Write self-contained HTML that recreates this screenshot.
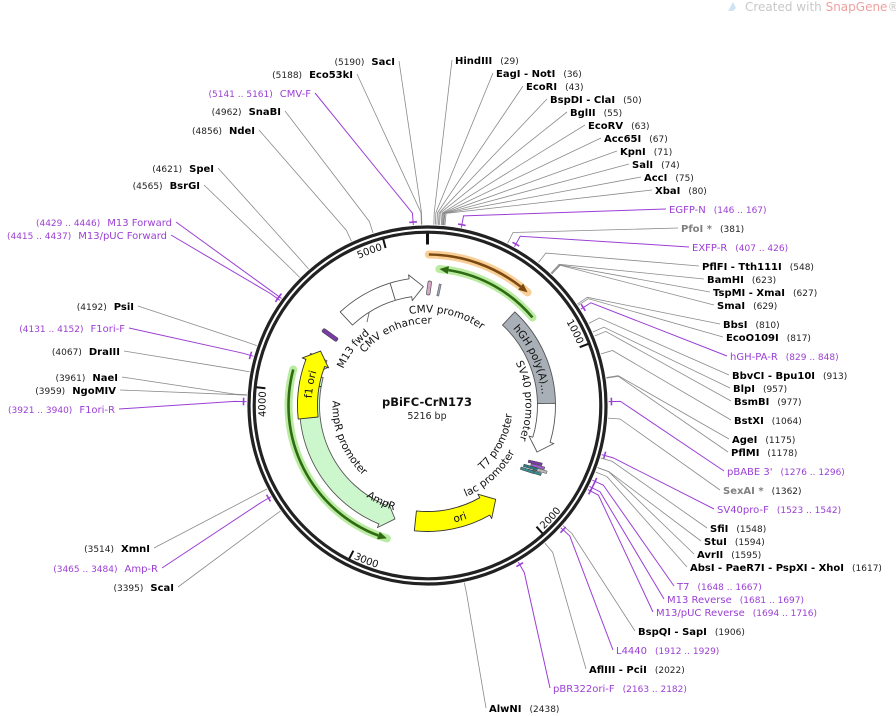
<!DOCTYPE html>
<html><head><meta charset="utf-8"><style>
html,body{margin:0;padding:0;background:#fff;width:896px;height:716px;overflow:hidden}
svg{display:block;font-family:"DejaVu Sans","Liberation Sans",sans-serif}
</style></head><body>
<svg id="s" width="896" height="716" viewBox="0 0 896 716" xmlns="http://www.w3.org/2000/svg">
<text x="745" y="11" font-size="12" fill="#c8c8c8">Created with <tspan fill="#f0a0a0">SnapGene</tspan>®</text>
<path d="M728 11 L733 2 L736 8 L733 11 Z" fill="#cfe3f3"/>
<g id="g"></g>
</svg>
<script>
const NS="http://www.w3.org/2000/svg";
const g=document.getElementById('g');
const cx=427.5,cy=405.5,L=5216;
function P(r,a){const t=a*Math.PI/180;return [cx+r*Math.sin(t),cy-r*Math.cos(t)];}
function f(p){return p[0].toFixed(2)+" "+p[1].toFixed(2);}
function arc(r,a1,a2){const p=P(r,a2);const lg=Math.abs(a2-a1)>180?1:0;const sw=a2>a1?1:0;return `A${r} ${r} 0 ${lg} ${sw} ${f(p)}`;}
function el(tag,attrs,parent,txt){const e=document.createElementNS(NS,tag);for(const k in attrs)e.setAttribute(k,attrs[k]);if(txt!==undefined)e.textContent=txt;(parent||g).appendChild(e);return e;}
function deg(bp){return bp/L*360;}
let pid=0;
function arcText(str,r,a,dir,anchor,attrs){
  const id="tp"+(pid++);let d;
  if(dir>0){d=`M${f(P(r,a-170))} `+arc(r,a-170,a)+" "+arc(r,a,a+170);}
  else{d=`M${f(P(r,a+170))} `+arc(r,a+170,a)+" "+arc(r,a,a-170);}
  el('path',{id:id,d:d,fill:'none',stroke:'none'});
  const t=el('text',Object.assign({'font-size':10.5,fill:'#111'},attrs||{}));
  el('textPath',{href:'#'+id,startOffset:(r*170*Math.PI/180).toFixed(2),'text-anchor':anchor},t,str);
}
function arrow(r1,r2,a0,a1,fill,stroke,head){
  const dir=a1>a0?1:-1;const rm=(r1+r2)/2;
  const h=head===false?0:13/rm*180/Math.PI;const ab=a1-dir*h;
  let d=`M${f(P(r2,a0))} `+arc(r2,a0,ab);
  if(head!==false){d+=` L${f(P(r2+4,ab))} L${f(P(rm,a1))} L${f(P(r1-4,ab))} L${f(P(r1,ab))}`;}
  else d+=` L${f(P(r1,ab))}`;
  d+=" "+arc(r1,ab,a0)+" Z";
  el('path',{d:d,fill:fill,stroke:stroke,'stroke-width':0.9,'stroke-linejoin':'round'});
}
function lineArrow(r,a0,a1,col,glow){
  const dir=a1>a0?1:-1;const h=9/r*180/Math.PI;const ab=a1-dir*h;
  el('path',{d:`M${f(P(r,a0))} `+arc(r,a0,a1),fill:'none',stroke:glow,'stroke-width':8,'stroke-linecap':'round','opacity':0.8});
  el('path',{d:`M${f(P(r,a0))} `+arc(r,a0,ab),fill:'none',stroke:col,'stroke-width':2.6});
  el('path',{d:`M${f(P(r+4,ab))} L${f(P(r,a1))} L${f(P(r-4,ab))} Z`,fill:col});
}
const R=[
["HindIII","29",455,60,29,'k'],["EagI  - NotI","36",496,73,36,'k'],["EcoRI","43",526,86,43,'k'],
["BspDI  - ClaI","50",550,99,50,'k'],["BglII","55",570,112,55,'k'],["EcoRV","63",588,125,63,'k'],
["Acc65I","67",604,138,67,'k'],["KpnI","71",620,151,71,'k'],["SalI","74",632,164,74,'k'],
["AccI","75",644,177,75,'k'],["XbaI","80",655,190,80,'k'],
["EGFP-N","146 .. 167",669,209,156,'p'],["PfoI *","381",681,228,381,'g'],["EXFP-R","407 .. 426",692,247,416,'p'],
["PflFI  - Tth111I","548",702,266,548,'k'],["BamHI","623",707,279,623,'k'],["TspMI  - XmaI","627",713,292,627,'k'],
["SmaI","629",717,305,629,'k'],["BbsI","810",723,324,810,'k'],["EcoO109I","817",726,337,817,'k'],
["hGH-PA-R","829 .. 848",730,356,838,'p'],["BbvCI  - Bpu10I","913",732,375,913,'k'],["BlpI","957",733,388,957,'k'],
["BsmBI","977",734,401,977,'k'],["BstXI","1064",734,420,1064,'k'],["AgeI","1175",732,439,1175,'k'],
["PflMI","1178",731,452,1178,'k'],["pBABE 3'","1276 .. 1296",727,471,1286,'p'],["SexAI *","1362",723,490,1362,'g'],
["SV40pro-F","1523 .. 1542",717,509,1532,'p'],["SfiI","1548",710,528,1548,'k'],["StuI","1594",704,541,1594,'k'],
["AvrII","1595",697,554,1595,'k'],["AbsI  - PaeR7I  - PspXI  - XhoI","1617",690,567,1617,'k'],
["T7","1648 .. 1667",677,586,1657,'p'],["M13 Reverse","1681 .. 1697",667,599,1689,'p'],
["M13/pUC Reverse","1694 .. 1716",656,612,1705,'p'],["BspQI  - SapI","1906",638,631,1906,'k'],
["L4440","1912 .. 1929",616,650,1920,'p'],["AflIII  - PciI","2022",589,669,2022,'k'],
["pBR322ori-F","2163 .. 2182",553,688,2172,'p'],["AlwNI","2438",489,708,2438,'k']];
const Lf=[
["SacI","5190",395,61,5190,'k'],["Eco53kI","5188",353,74,5188,'k'],["CMV-F","5141 .. 5161",311,93,5151,'p'],
["SnaBI","4962",281,111,4962,'k'],["NdeI","4856",255,130,4856,'k'],["SpeI","4621",214,168,4621,'k'],
["BsrGI","4565",200,185,4565,'k'],["M13 Forward","4429 .. 4446",172,222,4437,'p'],
["M13/pUC Forward","4415 .. 4437",167,235,4426,'p'],["PsiI","4192",134,306,4192,'k'],
["F1ori-F","4131 .. 4152",125,328,4141,'p'],["DraIII","4067",120,351,4067,'k'],["NaeI","3961",118,377,3961,'k'],
["NgoMIV","3959",116,390,3959,'k'],["F1ori-R","3921 .. 3940",115,409,3930,'p'],
["XmnI","3514",150,548,3514,'k'],["Amp-R","3465 .. 3484",158,568,3474,'p'],["ScaI","3395",174,587,3395,'k']];
const PUR="#9b3fd4";
function colr(c){return c==='p'?PUR:(c==='g'?'#808080':'#000');}
function drawLine(ax,ay,bp,c){
  const a=deg(bp);const p1=P(193,a),p2=P(181,a);
  const col=c==='p'?PUR:'#8a8a8a';
  el('polyline',{points:`${ax},${ay} ${f(p1)} ${f(p2)}`,fill:'none',stroke:col,'stroke-width':c==='p'?1:0.8});
  if(c==='p'){el('path',{d:`M${f(P(184,a-1.2))} `+arc(184,a-1.2,a+1.2),fill:'none',stroke:PUR,'stroke-width':1.6});}
}
R.forEach(([n,num,x,y,bp,c])=>{
  drawLine(x-3,y,bp,c);
  const t=el('text',{x:x,y:y+4,fill:colr(c)});
  el('tspan',{'font-size':10,'font-weight':c==='p'?'normal':'bold'},t,n);
  el('tspan',{'font-size':9,dx:8,fill:c==='p'?PUR:'#222'},t,"("+num+")");
});
Lf.forEach(([n,num,x,y,bp,c])=>{
  drawLine(x+4,y,bp,c);
  const t=el('text',{x:x,y:y+4,'text-anchor':'end',fill:colr(c)});
  el('tspan',{'font-size':9,fill:c==='p'?PUR:'#222'},t,"("+num+")");
  el('tspan',{'font-size':10,dx:7,'font-weight':c==='p'?'normal':'bold'},t,n);
});
el('circle',{cx:cx,cy:cy,r:178.5,fill:'#fff',stroke:'#222','stroke-width':3.2});
el('circle',{cx:cx,cy:cy,r:173.3,fill:'none',stroke:'#222','stroke-width':3.2});
el('path',{d:`M${f(P(172,0))} L${f(P(161,0))}`,stroke:'#111','stroke-width':3});
[1000,2000,3000,4000,5000].forEach(bp=>{
  const a=deg(bp);el('path',{d:`M${f(P(172,a))} L${f(P(163,a))}`,stroke:'#111','stroke-width':2});
  if(a>90&&a<270) arcText(String(bp),170,a-1.2,-1,'start',{'font-size':10});
  else arcText(String(bp),162,a-1.2,1,'end',{'font-size':10});
});
lineArrow(151,0.5,41.5,'#7a4a10','#f7c27d');
lineArrow(137,50,5,'#2f6b12','#a8e68a');
lineArrow(139,285,197,'#2f6b12','#a8e68a');
arrow(110,128,-43,-2,'#fff','#555');
el('path',{d:`M${f(P(110,-17))} L${f(P(128,-17))}`,stroke:'#555','stroke-width':0.9});
el('path',{d:`M${f(P(110,-32))} L${f(P(103,-36))}`,stroke:'#555','stroke-width':0.8});
arrow(110,128,43,89,'#a8afb6','#555',false);
arrow(110,128,89,113,'#fff','#555');
arrow(106,126,186,144,'#ffff00','#333');
arrow(108,128,285,196,'#ccf7cc','#555');
el('path',{d:`M${f(P(108,280))} L${f(P(128,280))}`,stroke:'#222','stroke-width':1,'stroke-dasharray':'2 1.5'});
arrow(110,128,294,285,'#fff','#555');
arrow(110,130,264,297,'#ffff00','#333');
el('rect',{x:-1.8,y:-7,width:3.6,height:14,rx:1.5,fill:'#d8a8c8',stroke:'#555','stroke-width':0.7,transform:'translate(429,288) rotate(8)'});
el('rect',{x:-1,y:-6,width:2,height:12,fill:'#9aa0b8',stroke:'#555','stroke-width':0.5,transform:'translate(439,290) rotate(12)'});
el('rect',{x:-2,y:-9,width:4,height:18,rx:1.5,fill:'#7a3aa8',stroke:'#444','stroke-width':0.6,transform:'translate(330,335) rotate(-54)'});
[[118,122,'#7a3aa8'],[119,126,'#a060d0'],[120,130,'#bbb'],[121,120,'#2f7a80'],[122,126,'#3a8a90'],[123,119,'#3a8a90']].forEach(([a,r,c])=>{
  const p=P(r,a);el('rect',{x:-7,y:-1.3,width:14,height:2.6,fill:c,stroke:'#333','stroke-width':0.4,transform:`translate(${p[0].toFixed(1)},${p[1].toFixed(1)}) rotate(${a+75})`});
});
arcText("CMV promoter",93,12,1,'middle');
arcText("CMV enhancer",82,-24,1,'middle');
arcText("M13 fwd",92,-53,1,'middle');
arcText("hGH poly(A)...",115,66,1,'middle');
arcText("SV40 promoter",98,87,1,'middle');
arcText("T7 promoter",85,118,-1,'middle');
arcText("lac promoter",99,138,-1,'middle');
arcText("ori",120,164,-1,'middle');
arcText("AmpR",110,206,-1,'middle');
arcText("AmpR promoter",95,248,-1,'middle');
arcText("f1 ori",116,280,1,'middle');
el('text',{x:427,y:406,'text-anchor':'middle','font-size':11.5,'font-weight':'bold',fill:'#111'},g,"pBiFC-CrN173");
el('text',{x:427,y:419,'text-anchor':'middle','font-size':9.5,fill:'#222'},g,"5216 bp");
</script>
</body></html>
